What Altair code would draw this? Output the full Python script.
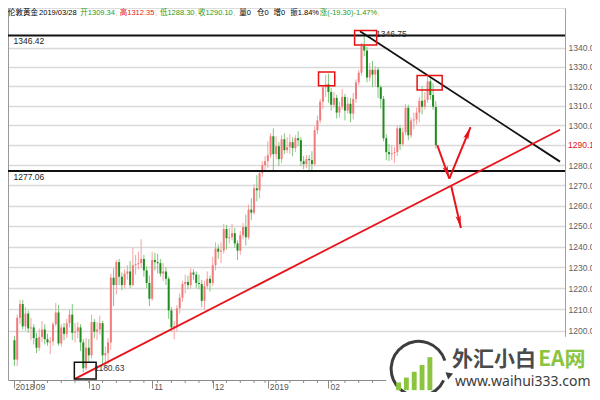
import altair as alt
import pandas as pd

# ---------------- data ----------------
opens = [1195.5, 1186.5, 1206.0, 1212.5, 1202.0, 1208.0, 1201.0, 1201.5, 1196.5, 1192.0,
         1197.0, 1200.5, 1196.0, 1194.5, 1195.0, 1203.0, 1208.5, 1194.0, 1201.5, 1198.5,
         1203.5, 1207.5, 1199.0, 1199.5, 1201.5, 1194.5, 1182.5, 1192.0, 1188.5, 1204.0,
         1199.5, 1200.5, 1203.5, 1188.5, 1189.5, 1194.5, 1225.0, 1221.5, 1232.5, 1225.5,
         1221.5, 1227.0, 1228.0, 1221.5, 1231.0, 1231.5, 1232.0, 1234.0, 1228.5, 1222.5,
         1215.0, 1233.5, 1232.5, 1232.0, 1227.0, 1228.0, 1224.5, 1209.5, 1201.5, 1202.0,
         1210.5, 1215.5, 1222.0, 1223.0, 1221.5, 1227.5, 1226.5, 1222.5, 1222.0, 1214.0,
         1221.0, 1224.5, 1222.5, 1231.0, 1239.0, 1237.5, 1238.0, 1248.5, 1244.0, 1244.5,
         1246.5, 1241.5, 1238.0, 1245.5, 1249.5, 1244.5, 1258.0, 1256.5, 1268.5, 1267.5,
         1276.0, 1280.0, 1282.0, 1285.0, 1294.5, 1285.5, 1289.5, 1283.0, 1293.0, 1287.5,
         1289.0, 1291.5, 1288.5, 1293.5, 1292.5, 1282.0, 1280.5, 1283.0, 1282.5, 1280.5,
         1297.5, 1302.5, 1312.0, 1319.5, 1321.0, 1317.0, 1310.5, 1314.0, 1306.5, 1309.5,
         1314.5, 1307.5, 1311.0, 1306.0, 1313.5, 1322.0, 1327.0, 1341.0, 1338.5, 1324.5,
         1328.5, 1326.0, 1328.5, 1319.5, 1313.5, 1293.5, 1286.5, 1285.5, 1286.0, 1286.5,
         1298.5, 1290.5, 1296.5, 1309.0, 1295.0, 1302.5, 1303.0, 1306.5, 1312.5, 1309.5,
         1313.0, 1322.5, 1315.5, 1309.34]
highs = [1197.5, 1207.5, 1214.5, 1214.5, 1211.0, 1209.5, 1206.0, 1203.0, 1199.0, 1201.0,
         1204.5, 1203.0, 1198.5, 1197.0, 1204.0, 1213.0, 1212.0, 1203.0, 1203.5, 1205.5,
         1210.0, 1212.5, 1203.5, 1204.0, 1203.0, 1196.0, 1196.5, 1196.0, 1207.5, 1205.5,
         1204.0, 1207.0, 1204.5, 1192.5, 1196.5, 1227.0, 1229.5, 1233.5, 1234.0, 1227.5,
         1229.0, 1231.0, 1233.0, 1239.5, 1236.0, 1237.5, 1243.5, 1236.0, 1230.5, 1226.0,
         1237.5, 1237.0, 1236.5, 1234.0, 1232.0, 1230.0, 1225.5, 1211.0, 1204.5, 1212.0,
         1217.5, 1223.5, 1226.5, 1226.0, 1229.5, 1229.0, 1228.0, 1226.5, 1224.0, 1223.5,
         1228.0, 1226.0, 1235.0, 1242.0, 1241.0, 1242.0, 1251.0, 1250.5, 1249.0, 1251.0,
         1249.0, 1243.0, 1247.5, 1251.5, 1255.5, 1260.5, 1263.5, 1270.5, 1275.0, 1277.5,
         1282.0, 1284.5, 1292.0, 1296.0, 1298.5, 1294.5, 1291.5, 1295.0, 1296.0, 1294.0,
         1295.5, 1294.0, 1295.0, 1297.0, 1294.0, 1284.5, 1285.0, 1285.0, 1287.0, 1299.5,
         1305.0, 1313.5, 1320.5, 1326.0, 1326.5, 1319.0, 1317.0, 1315.5, 1312.0, 1318.5,
         1316.0, 1314.5, 1314.0, 1316.5, 1323.5, 1328.5, 1342.5, 1346.75, 1340.5, 1332.0,
         1333.0, 1330.5, 1330.0, 1320.5, 1315.0, 1295.5, 1290.5, 1290.0, 1289.0, 1300.0,
         1300.0, 1299.0, 1311.0, 1310.5, 1304.0, 1306.5, 1309.0, 1314.5, 1320.0, 1317.0,
         1324.8, 1324.0, 1321.5, 1312.35]
lows = [1183.5, 1183.5, 1203.0, 1200.5, 1200.0, 1199.0, 1195.5, 1193.5, 1189.5, 1190.5,
        1194.5, 1193.5, 1193.0, 1189.0, 1193.0, 1202.0, 1193.0, 1192.5, 1195.5, 1196.5,
        1201.5, 1195.5, 1194.5, 1196.5, 1190.5, 1180.63, 1181.5, 1185.5, 1187.0, 1196.5,
        1195.5, 1198.0, 1183.5, 1182.5, 1184.5, 1191.0, 1211.5, 1217.0, 1221.5, 1219.0,
        1220.0, 1224.0, 1220.0, 1221.0, 1226.5, 1229.0, 1229.5, 1225.5, 1220.0, 1211.5,
        1214.0, 1228.5, 1227.0, 1225.5, 1223.5, 1221.5, 1205.5, 1199.5, 1196.0, 1199.5,
        1208.0, 1213.5, 1217.5, 1219.5, 1220.0, 1224.0, 1220.0, 1219.5, 1211.0, 1210.0,
        1219.5, 1218.5, 1221.0, 1228.5, 1234.0, 1232.0, 1236.5, 1238.5, 1241.5, 1243.0,
        1239.5, 1233.5, 1236.0, 1243.5, 1240.5, 1243.5, 1253.0, 1255.5, 1262.0, 1263.5,
        1274.0, 1277.0, 1278.5, 1283.5, 1276.5, 1283.0, 1279.5, 1281.0, 1285.5, 1286.0,
        1285.5, 1284.5, 1286.5, 1289.5, 1279.5, 1278.0, 1278.5, 1277.5, 1276.5, 1279.5,
        1295.5, 1301.0, 1308.5, 1314.5, 1311.5, 1307.5, 1309.0, 1303.5, 1304.0, 1308.0,
        1302.5, 1306.0, 1301.5, 1303.0, 1311.5, 1320.5, 1325.5, 1335.5, 1322.0, 1322.5,
        1319.5, 1320.0, 1314.0, 1308.5, 1292.0, 1282.5, 1282.0, 1282.5, 1281.0, 1284.5,
        1287.5, 1289.5, 1295.0, 1292.5, 1293.5, 1298.0, 1300.5, 1301.5, 1305.5, 1308.0,
        1311.5, 1313.0, 1308.0, 1288.30]
closes = [1186.5, 1206.0, 1212.5, 1202.0, 1208.0, 1201.0, 1201.5, 1196.5, 1192.0, 1197.0,
          1200.5, 1196.0, 1194.5, 1195.0, 1203.0, 1208.5, 1194.0, 1201.5, 1198.5, 1203.5,
          1207.5, 1199.0, 1199.5, 1201.5, 1194.5, 1182.5, 1192.0, 1188.5, 1204.0, 1199.5,
          1200.5, 1203.5, 1188.5, 1189.5, 1194.5, 1225.0, 1221.5, 1232.5, 1225.5, 1221.5,
          1227.0, 1228.0, 1221.5, 1231.0, 1231.5, 1232.0, 1234.0, 1228.5, 1222.5, 1215.0,
          1233.5, 1232.5, 1232.0, 1227.0, 1228.0, 1224.5, 1209.5, 1201.5, 1202.0, 1210.5,
          1215.5, 1222.0, 1223.0, 1221.5, 1227.5, 1226.5, 1222.5, 1222.0, 1214.0, 1221.0,
          1224.5, 1222.5, 1231.0, 1239.0, 1237.5, 1238.0, 1248.5, 1244.0, 1244.5, 1246.5,
          1241.5, 1238.0, 1245.5, 1249.5, 1244.5, 1258.0, 1256.5, 1268.5, 1267.5, 1276.0,
          1280.0, 1282.0, 1285.0, 1294.5, 1285.5, 1289.5, 1283.0, 1293.0, 1287.5, 1289.0,
          1291.5, 1288.5, 1293.5, 1292.5, 1282.0, 1280.5, 1283.0, 1282.5, 1280.5, 1297.5,
          1302.5, 1312.0, 1319.5, 1321.0, 1317.0, 1310.5, 1314.0, 1306.5, 1309.5, 1314.5,
          1307.5, 1311.0, 1306.0, 1313.5, 1322.0, 1327.0, 1341.0, 1338.5, 1324.5, 1328.5,
          1326.0, 1328.5, 1319.5, 1313.5, 1293.5, 1286.5, 1285.5, 1286.0, 1286.5, 1298.5,
          1290.5, 1296.5, 1309.0, 1295.0, 1302.5, 1303.0, 1306.5, 1312.5, 1309.5, 1313.0,
          1322.5, 1315.5, 1309.5, 1290.10]

# x-axis (candle index) tick positions and labels
month_ticks = [-0.3, 7, 27, 50, 72, 92, 114]
month_labels = ["2018", "09", "10", "11", "12", "2019", "02"]
week_ticks = [2, 7, 12, 17, 22, 27, 32, 37, 42, 47, 52, 57, 62, 67, 72, 77, 82, 87, 91,
              95, 100, 105, 110, 115, 120, 125, 130]
price_ticks = [1200, 1210, 1220, 1230, 1240, 1250, 1260, 1270, 1280, 1290,
               1300, 1310, 1320, 1330, 1340]

# horizontal support / resistance levels
level_prices = [1346.42, 1277.06]
level_labels = ["1346.42", "1277.06"]
level_label_prices = [1343.3, 1274.0]

# trend lines (candle index, price)
trend_x1 = [125.45, 21.75]
trend_x2 = [198.08, 198.08]
trend_y1 = [1348.6, 1177.5]
trend_y2 = [1281.75, 1297.8]
trend_colors = ["#111111", "#e8141b"]

# highlight boxes
box_x1 = [110.4, 123.5, 146.2, 21.75]
box_x2 = [116.3, 131.5, 155.3, 29.65]
box_y1 = [1320.2, 1341.4, 1318.1, 1177.6]
box_y2 = [1327.4, 1349.0, 1325.5, 1185.3]
box_colors = ["#e81010", "#e81010", "#e81010", "#111111"]

# red arrows
arrow_x1 = [153.5, 157.9, 158.6]
arrow_x2 = [157.9, 165.6, 162.1]
arrow_y1 = [1290.1, 1273.3, 1269.5]
arrow_y2 = [1273.3, 1299.1, 1249.0]
arrow_angle = [160, 22.5, 167]

# point labels
extreme_labels = ["1180.63", "1346.75"]
extreme_x = [29.0, 131.3]
extreme_y = [1182.7, 1347.1]
last_close = 1290.10

header_parts = ["伦敦黄金", "2019/03/28", "开1309.34", "高1312.35", "低1288.30", "收1290.10",
                "量0", "仓0", "增0", "振1.84%", "涨(-19.30)-1.47%"]
header_colors = ["#000000", "#000000", "#1e9a1e", "#e82020", "#1e9a1e", "#1e9a1e",
                 "#000000", "#000000", "#000000", "#000000", "#1e9a1e"]
header_ref_x = [2, 33.7, 75.8, 116, 157, 196, 238, 256, 273, 290, 320]
header_has_arrow = [False, False, True, True, True, True, False, False, False, False, True]

# ---------------- layout ----------------
W, H = 557, 372
SX, SY = 0.98, 0.97
HF = 7.5  # header font size


def px(v):
    return (v - 2) * SX


def py(v):
    return (v - 2) * SY


def text_width(s, fs):
    w = 0.0
    for ch in s:
        if ord(ch) > 0x2E80:
            w += 1.0
        elif ch.isdigit():
            w += 0.556
        elif ch in "./":
            w += 0.278
        elif ch in "()-":
            w += 0.333
        elif ch == "%":
            w += 0.889
        else:
            w += 0.6
    return w * fs


FONT = "Liberation Sans, Arial, Noto Sans CJK SC, sans-serif"

xs = alt.Scale(domain=[-0.524, 198.08], nice=False, zero=False)
ys = alt.Scale(type="log", domain=[1177.1, 1360.9], nice=False, zero=False)

df = pd.DataFrame({"idx": list(range(len(closes))), "o": opens, "h": highs, "l": lows, "c": closes})

label_expr = " : ".join(
    [f"datum.value < {t + 0.1} && datum.value > {t - 0.1} ? '{lab}'" for t, lab in zip(month_ticks, month_labels)]
) + " : ''"

x_axis = alt.Axis(values=month_ticks, labelExpr=label_expr, orient="bottom", tickSize=8,
                  tickColor="#8a8a8a", domainColor="#8a8a8a", labelAlign="left", labelBaseline="top",
                  labelPadding=-6, labelOffset=1.5, labelFontSize=8.5, labelColor="#555555",
                  labelFont=FONT, grid=False, title=None, zindex=0, labelFlush=False, labelOverlap=False)
y_axis = alt.Axis(values=price_ticks, orient="right",
                  labelExpr="datum.value == 1290 ? '' : format(datum.value, '.2f')",
                  grid=True, gridColor="#d9d9d9", gridWidth=1.5, tickSize=0, domainColor="#a0a0a0",
                  labelPadding=3, labelColor="#606060", labelFontSize=8.5, labelFont=FONT, title=None,
                  zindex=0, labelOverlap=False, labelFlush=False)

up_cond = "datum.c >= datum.o"

wicks = alt.Chart(df).mark_rule(strokeWidth=1).encode(
    x=alt.X("idx:Q", scale=xs, axis=x_axis),
    y=alt.Y("l:Q", scale=ys, axis=y_axis),
    y2="h:Q",
    color=alt.condition(up_cond, alt.value("#f6a3a3"), alt.value("#7cc77c")),
)
bodies = alt.Chart(df).mark_bar(size=2).encode(
    x=alt.X("idx:Q", scale=xs),
    y=alt.Y("o:Q", scale=ys),
    y2="c:Q",
    color=alt.condition(up_cond, alt.value("#f27c7c"), alt.value("#1f8c1f")),
)

levels = alt.Chart(pd.DataFrame({"p": level_prices})).mark_rule(color="#111111", strokeWidth=2).encode(
    y=alt.Y("p:Q", scale=ys))

level_text = alt.Chart(pd.DataFrame({"t": level_labels, "p": level_label_prices, "x": [-0.35, -0.35]})).mark_text(
    align="left", baseline="middle", fontSize=8.5, font=FONT, color="#222222").encode(
    x=alt.X("x:Q", scale=xs), y=alt.Y("p:Q", scale=ys), text="t:N")

trends = alt.Chart(pd.DataFrame({"x1": trend_x1, "x2": trend_x2, "y1": trend_y1, "y2": trend_y2,
                                 "col": trend_colors})).mark_rule(strokeWidth=1.8).encode(
    x=alt.X("x1:Q", scale=xs), x2="x2:Q",
    y=alt.Y("y1:Q", scale=ys), y2="y2:Q",
    color=alt.Color("col:N", scale=None))

boxes = alt.Chart(pd.DataFrame({"x1": box_x1, "x2": box_x2, "y1": box_y1, "y2": box_y2,
                                "col": box_colors})).mark_rect(filled=False, strokeWidth=1.5).encode(
    x=alt.X("x1:Q", scale=xs), x2="x2:Q",
    y=alt.Y("y1:Q", scale=ys), y2="y2:Q",
    stroke=alt.Stroke("col:N", scale=None))

arrows_df = pd.DataFrame({"x1": arrow_x1, "x2": arrow_x2, "y1": arrow_y1, "y2": arrow_y2, "ang": arrow_angle})
arrow_lines = alt.Chart(arrows_df).mark_rule(color="#e8141b", strokeWidth=2).encode(
    x=alt.X("x1:Q", scale=xs), x2="x2:Q",
    y=alt.Y("y1:Q", scale=ys), y2="y2:Q")
arrow_heads = alt.Chart(arrows_df).mark_point(
    shape="M0,0L0.42,2L0,1.6L-0.42,2Z", filled=True, size=160, color="#e8141b", opacity=1).encode(
    x=alt.X("x2:Q", scale=xs),
    y=alt.Y("y2:Q", scale=ys),
    angle=alt.Angle("ang:Q", scale=None))

ext_text = alt.Chart(pd.DataFrame({"t": extreme_labels, "x": extreme_x, "y": extreme_y})).mark_text(
    align="left", baseline="middle", fontSize=8.5, font=FONT, color="#333333").encode(
    x=alt.X("x:Q", scale=xs), y=alt.Y("y:Q", scale=ys), text="t:N")

last_text = alt.Chart(pd.DataFrame({"p": [last_close], "t": [f"{last_close:.2f}"]})).mark_text(
    align="left", baseline="middle", fontSize=8.5, font=FONT, color="#e81010", dx=3).encode(
    x=alt.value(W), y=alt.Y("p:Q", scale=ys), text="t:N")

minor_ticks = alt.Chart(pd.DataFrame({"w": week_ticks})).mark_rule(color="#8a8a8a", strokeWidth=1).encode(
    x=alt.X("w:Q", scale=xs), y=alt.value(H), y2=alt.value(H + 3))

one = pd.DataFrame({"a": [0]})
left_border = alt.Chart(one).mark_rule(color="#9a9a9a", strokeWidth=1).encode(
    x=alt.value(0.5), y=alt.value(0), y2=alt.value(H))

header_layers = []
for t, col, rx, arr in zip(header_parts, header_colors, header_ref_x, header_has_arrow):
    x0 = px(rx)
    header_layers.append(alt.Chart(one).mark_text(
        text=t, align="left", baseline="middle", fontSize=HF, font=FONT, color=col).encode(
        x=alt.value(x0), y=alt.value(5)))
    if arr:
        header_layers.append(alt.Chart(one).mark_text(
            text="↓", align="left", baseline="middle", fontSize=5.5, font=FONT, color="#f0a020").encode(
            x=alt.value(x0 + text_width(t, HF) + 0.3), y=alt.value(6)))

# watermark
mask = alt.Chart(one).mark_rect(color="white").encode(
    x=alt.value(px(388)), x2=alt.value(W + 40), y=alt.value(py(341)), y2=alt.value(H + 20))
ring = alt.Chart(one).mark_arc(radius=29, radius2=26, color="#3d3d3d").encode(
    x=alt.value(px(421)), y=alt.value(py(374)), theta=alt.value(2.0), theta2=alt.value(7.55))
logo_arrow = alt.Chart(one).mark_point(shape="triangle-right", filled=True, size=60, color="#3d3d3d",
                                       opacity=1).encode(
    x=alt.value(px(453)), y=alt.value(py(380)), angle=alt.value(340))
logo_bars = []
for bx, btop in zip([398, 406, 414, 422, 430], [388, 383, 377, 370, 362]):
    logo_bars.append(alt.Chart(one).mark_rect(color="#8bc43f").encode(
        x=alt.value(px(bx)), x2=alt.value(px(bx + 5)), y=alt.value(py(btop)), y2=alt.value(py(396))))
wm1 = alt.Chart(one).mark_text(text="外汇小白", align="left", baseline="middle", fontSize=21,
                               fontWeight="bold", font="Noto Sans CJK SC", color="#4a4a4a").encode(
    x=alt.value(px(455)), y=alt.value(py(365)))
wm2 = alt.Chart(one).mark_text(text="EA网", align="left", baseline="middle", fontSize=21,
                               fontWeight="bold", font="Noto Sans CJK SC", color="#8bc43f").encode(
    x=alt.value(px(543)), y=alt.value(py(365)))
wm3 = alt.Chart(one).mark_text(text="www.waihui333.com", align="left", baseline="middle", fontSize=14,
                               font="Noto Sans", color="#3a3a3a").encode(
    x=alt.value(px(458)), y=alt.value(py(388)))

chart = alt.layer(
    wicks, bodies, minor_ticks, left_border, levels, level_text, trends, boxes,
    arrow_lines, arrow_heads, ext_text, last_text,
    *header_layers, mask, ring, logo_arrow, *logo_bars, wm1, wm2, wm3,
).properties(
    width=W, height=H,
    autosize=alt.AutoSizeParams(type="none"),
    padding={"left": 0, "top": 0, "right": 27, "bottom": 12},
).configure_view(stroke=None).configure(background="white")

chart.save("out.html", embed_options={"renderer": "svg", "actions": False})
